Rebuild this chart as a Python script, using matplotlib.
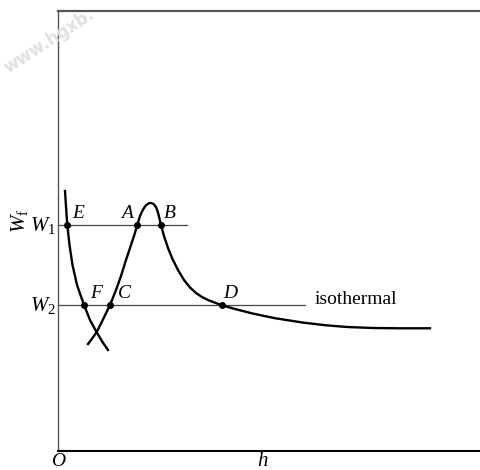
import matplotlib.pyplot as plt

plt.rcParams['mathtext.fontset'] = 'custom'
plt.rcParams['mathtext.rm'] = 'Liberation Serif'
plt.rcParams['mathtext.it'] = 'Liberation Serif:italic'
plt.rcParams['font.family'] = 'Liberation Serif'

# curve, in pixels (x right, y down), converted below
# branch through E and F
px_ef = [65, 65.9, 67.3, 69.5, 72.5, 77, 84, 90, 96.5, 102.5, 108]
py_ef = [191, 205, 225, 245, 265, 285, 305, 320, 332, 342, 350]

# branch through C, A, peak, B, D and the isothermal tail
px_main = [88, 92.5, 96.7, 103, 110, 116, 121, 126, 130, 134, 137.3, 140, 143,
           146, 149, 151.5, 154, 156.5, 158.5, 161, 164, 168, 172.5, 178, 184,
           190, 196, 202, 208, 215, 222, 235, 253, 275, 303, 325, 347, 373,
           400, 430]
py_main = [344, 338, 332, 319.5, 305, 290, 276, 260, 248, 236, 225, 216, 209.5,
           205.2, 203.2, 203, 204.3, 208, 214.5, 225, 236, 248, 259, 270, 280,
           287.5, 293, 297, 300, 302.7, 305.3, 309, 313.6, 318.2, 322.6, 325.2,
           327, 328, 328.3, 328.3]

# origin O at pixel (58, 451): h to the right, Wf upward
h_ef = [x - 58 for x in px_ef]
w_ef = [451 - y for y in py_ef]
h_main = [x - 58 for x in px_main]
w_main = [451 - y for y in py_main]

# levels W1 and W2 and how far their lines run
levels = [226, 146]
level_ends = [129, 247]
level_names = [r'$W_1$', r'$W_2$']

# marked points
pt_names = ['E', 'A', 'B', 'F', 'C', 'D']
pt_h = [9.3, 79.3, 103, 26, 52, 164]
pt_w = [226, 226, 226, 146, 146, 146]
pt_dx = [5, -16, 3, 6, 8, 1]

fig = plt.figure(figsize=(4.8, 4.7), dpi=100)
ax = fig.add_axes([58 / 480, 19 / 470, 422 / 480, 440 / 470])
ax.set_xlim(0, 422)
ax.set_ylim(0, 440)
ax.set_xticks([])
ax.set_yticks([])
ax.spines['right'].set_visible(False)
ax.spines['left'].set_color('#555555')
ax.spines['left'].set_linewidth(1.0)
ax.spines['top'].set_color('#555555')
ax.spines['top'].set_linewidth(1.6)
ax.spines['bottom'].set_color('black')
ax.spines['bottom'].set_linewidth(1.5)

for lev, end, name in zip(levels, level_ends, level_names):
    ax.plot([0, end], [lev, lev], color='#444444', lw=0.9)
    ax.text(-2, lev - 1, name, fontsize=15, ha='right', va='center')

ax.plot(h_ef, w_ef, color='black', lw=1.7, solid_joinstyle='round')
ax.plot(h_main, w_main, color='black', lw=1.7, solid_joinstyle='round')
ax.plot(pt_h, pt_w, 'o', color='black', ms=4)

for name, x, y, dx in zip(pt_names, pt_h, pt_w, pt_dx):
    ax.text(x + dx, y + 3, name, fontsize=14, style='italic', ha='left', va='bottom')

ax.text(257, 152, 'isothermal', fontsize=14, ha='left', va='center')
ax.text(-39, 230, r'$W_\mathrm{f}$', fontsize=15, rotation=90, ha='center', va='center')
ax.text(0, -11, 'O', fontsize=14, style='italic', ha='center', va='center')
ax.text(204, -11, 'h', fontsize=15, style='italic', ha='center', va='center')

# faint watermark
fig.text(8 / 480, 1 - 74 / 470, 'www.hgxb.', fontsize=12, fontweight='bold',
         family='DejaVu Sans', color='#e0e0e0', rotation=33, rotation_mode='anchor',
         ha='left', va='baseline', zorder=0)

fig.savefig('out.png', dpi=100)
